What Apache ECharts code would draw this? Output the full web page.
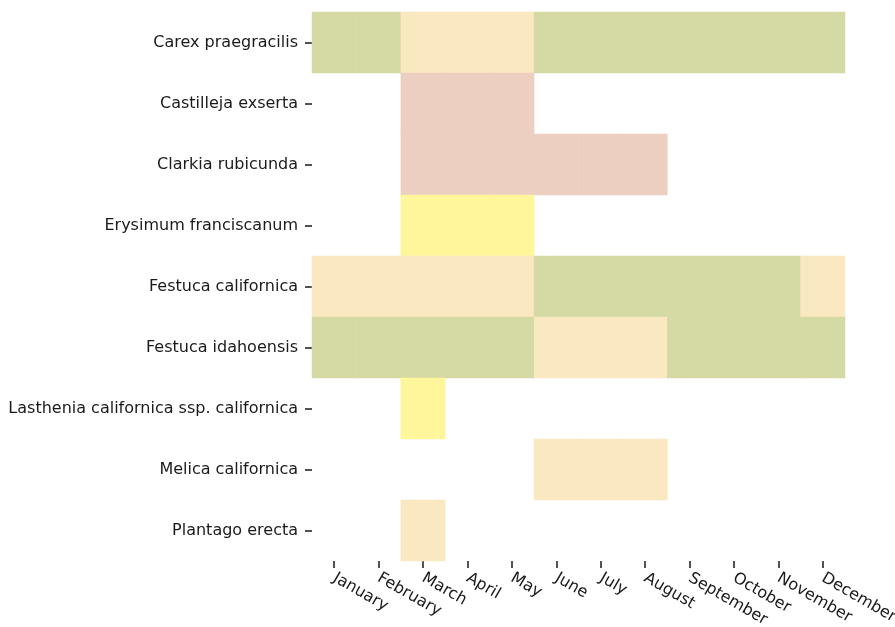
<!DOCTYPE html>
<html>
<head>
<meta charset="utf-8">
<script src="https://cdn.jsdelivr.net/npm/echarts@6/dist/echarts.min.js"></script>
<style>html,body{margin:0;padding:0;background:#fff;}#c{width:895px;height:627px;}</style>
</head>
<body>
<div id="c"></div>
<script>
const months = ["January","February","March","April","May","June","July","August","September","October","November","December"];
const species = ["Carex praegracilis","Castilleja exserta","Clarkia rubicunda","Erysimum franciscanum","Festuca californica","Festuca idahoensis","Lasthenia californica ssp. californica","Melica californica","Plantago erecta"];
// state codes per month: 0 = none, 1 = green, 2 = beige, 3 = pink, 4 = yellow
const carexPraegracilis      = [1,1,2,2,2,1,1,1,1,1,1,1];
const castillejaExserta      = [0,0,3,3,3,0,0,0,0,0,0,0];
const clarkiaRubicunda       = [0,0,3,3,3,3,3,3,0,0,0,0];
const erysimumFranciscanum   = [0,0,4,4,4,0,0,0,0,0,0,0];
const festucaCalifornica     = [2,2,2,2,2,1,1,1,1,1,1,2];
const festucaIdahoensis      = [1,1,1,1,1,2,2,2,1,1,1,1];
const lastheniaCalifornica   = [0,0,4,0,0,0,0,0,0,0,0,0];
const melicaCalifornica      = [0,0,0,0,0,2,2,2,0,0,0,0];
const plantagoErecta         = [0,0,2,0,0,0,0,0,0,0,0,0];
const rows = [carexPraegracilis,castillejaExserta,clarkiaRubicunda,erysimumFranciscanum,festucaCalifornica,festucaIdahoensis,lastheniaCalifornica,melicaCalifornica,plantagoErecta];
const stateColors = {1:"#d5d9a3",2:"#fae8c0",3:"#edcfc2",4:"#fff59a"};

const data = [];
rows.forEach((r, yi) => r.forEach((v, xi) => {
  if (v) data.push({value:[xi, yi, v], itemStyle:{color:stateColors[v]}});
}));

const chart = echarts.init(document.getElementById('c'));
chart.setOption({
  animation:false,
  backgroundColor:'#fff',
  grid:{left:312, right:50, top:12, bottom:66, containLabel:false, outerBoundsMode:'none'},
  xAxis:{
    type:'category', data:months,
    axisLine:{show:false},
    axisTick:{show:true, alignWithLabel:true, length:7, lineStyle:{color:'#1a1a1a', width:1.5}},
    axisLabel:{rotate:-30, margin:16, color:'#1a1a1a', fontSize:16, fontFamily:'DejaVu Sans', interval:0},
    splitLine:{show:false}
  },
  yAxis:{
    type:'category', data:species, inverse:true,
    axisLine:{show:false},
    axisTick:{show:true, alignWithLabel:true, length:7, lineStyle:{color:'#1a1a1a', width:1.5}},
    axisLabel:{margin:14, color:'#1a1a1a', fontSize:16, fontFamily:'DejaVu Sans', interval:0},
    splitLine:{show:false}
  },
  series:[{type:'heatmap', data:data, itemStyle:{borderWidth:0}, emphasis:{disabled:true}}]
});
</script>
</body>
</html>
